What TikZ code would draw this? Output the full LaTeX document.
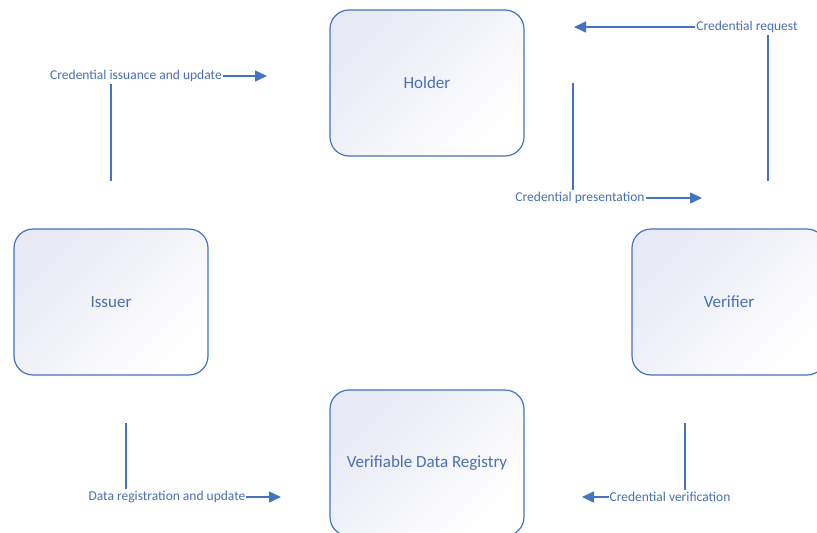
\documentclass[tikz,border=0pt]{standalone}
\usepackage{fontspec}
\setmainfont{Carlito}
\usetikzlibrary{arrows.meta}
\definecolor{edgeblue}{HTML}{4472C4}
\definecolor{textblue}{HTML}{4A6FB8}
\definecolor{lav}{HTML}{E7E9F5}
\tikzset{
  role/.style={draw=edgeblue, line width=1.2pt, rounded corners=19pt,
    minimum width=194pt, minimum height=146pt, shade, top color=lav,
    bottom color=white, shading angle=45, text=textblue,
    font=\fontsize{17pt}{20pt}\selectfont},
  flow/.style={draw=edgeblue, line width=1.5pt,
    -{Triangle[length=12pt,width=11pt]}},
  flowlabel/.style={fill=white, text=textblue, inner xsep=1pt, inner ysep=2pt,
    font=\fontsize{13.5pt}{16pt}\selectfont}
}
\begin{document}
\begin{tikzpicture}[x=1pt,y=-1pt]
\useasboundingbox (0,0) rectangle (817,533);
\clip (0,0) rectangle (817,533);

% the four roles
\node[role] (holder)   at (427,83)  {Holder};
\node[role] (issuer)   at (111,302) {Issuer};
\node[role] (verifier) at (729,302) {Verifier};
\node[role] (registry) at (427,463) {Verifiable Data Registry};

% free ends of the connectors
\coordinate (iss-a) at (111,181);
\coordinate (iss-b) at (267,76);
\coordinate (req-a) at (768,181);
\coordinate (req-b) at (574,27);
\coordinate (pre-a) at (573,83);
\coordinate (pre-b) at (702,198);
\coordinate (dat-a) at (126,423);
\coordinate (dat-b) at (281,497);
\coordinate (ver-a) at (685,423);
\coordinate (ver-b) at (582,497);

% issuer -> holder
\draw[flow] (iss-a) |- (iss-b);
\node[flowlabel] (l-iss) at (136,76) {Credential issuance and update};

% verifier -> holder
\draw[flow] (req-a) |- (req-b);
\node[flowlabel] (l-req) at (747,27) {Credential request};

% holder -> verifier
\draw[flow] (pre-a) |- (pre-b);
\node[flowlabel] (l-pre) at (580,198) {Credential presentation};

% issuer -> registry
\draw[flow] (dat-a) |- (dat-b);
\node[flowlabel] (l-dat) at (167,497) {Data registration and update};

% verifier -> registry
\draw[flow] (ver-a) |- (ver-b);
\node[flowlabel] (l-ver) at (670,497) {Credential verification};
\end{tikzpicture}
\end{document}
